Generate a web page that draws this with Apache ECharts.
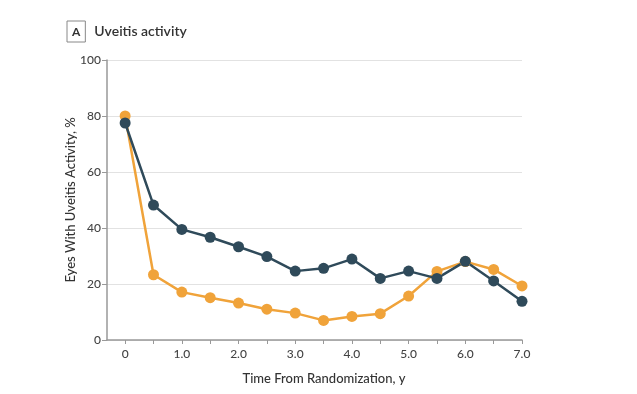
<!DOCTYPE html>
<html><head><meta charset="utf-8">
<script src="https://cdn.jsdelivr.net/npm/echarts@6/dist/echarts.min.js"></script>
<style>html,body{margin:0;padding:0;background:#fff}#c{width:637px;height:394px}</style>
</head><body><div id="c"></div>
<script>
const times = [0,0.5,1.0,1.5,2.0,2.5,3.0,3.5,4.0,4.5,5.0,5.5,6.0,6.5,7.0];
const blueValues = [77.5,48.2,39.5,36.7,33.3,29.8,24.6,25.6,28.9,22.0,24.6,22.0,28.1,21.1,13.8];
const orangeValues = [80.0,23.3,17.1,15.1,13.2,11.0,9.6,7.0,8.4,9.4,15.7,24.5,28.0,25.2,19.3];
const xLabelValues = [0,1,2,3,4,5,6,7];
const xTickValues = [0,0.5,1,1.5,2,2.5,3,3.5,4,4.5,5,5.5,6,6.5,7];
const yTicks = [0,20,40,60,80,100];

const font = 'Lato, "Open Sans", sans-serif';
const chart = echarts.init(document.getElementById('c'));
chart.setOption({
  animation: false,
  title: {
    text: '{box|A}{t|Uveitis activity}',
    left: 62, top: 16,
    textStyle: {
      rich: {
        box: {fontFamily: font, fontSize: 12, fontWeight: 'bold', color: '#333',
              borderColor: '#888', borderWidth: 1, padding: [5, 5, 4, 5]},
        t: {fontFamily: font, fontSize: 14, fontWeight: 600, color: '#333', padding: [0, 0, 0, 9]}
      }
    }
  },
  grid: {left: 107, top: 60, right: 115, bottom: 54},
  xAxis: {
    type: 'value', min: -0.32, max: 7,
    axisLine: {show: true, lineStyle: {color: '#999', width: 1.5}},
    axisTick: {show: true, customValues: xTickValues, length: 4, lineStyle: {color: '#999'}},
    axisLabel: {customValues: xLabelValues, margin: 8, fontFamily: font, fontSize: 12, fontWeight: 500, color: '#444',
                formatter: v => v === 0 ? '0' : v.toFixed(1)},
    splitLine: {show: false},
    name: 'Time From Randomization, y', nameLocation: 'middle', nameGap: 32, nameMoveOverlap: false,
    nameTextStyle: {fontFamily: font, fontSize: 13, fontWeight: 500, color: '#333', padding: [0, 0, 0, 19]}
  },
  yAxis: {
    type: 'value', min: 0, max: 100, interval: 20,
    axisLine: {show: true, onZero: false, lineStyle: {color: '#999', width: 1.5}},
    axisTick: {show: true, length: 5, lineStyle: {color: '#999'}},
    axisLabel: {margin: 6, fontFamily: font, fontSize: 12, fontWeight: 500, color: '#444'},
    splitLine: {show: true, lineStyle: {color: '#e2e2e2', width: 1}},
    name: 'Eyes With Uveitis Activity, %', nameLocation: 'middle', nameGap: 30, nameMoveOverlap: false,
    nameTextStyle: {fontFamily: font, fontSize: 13, fontWeight: 500, color: '#333'}
  },
  series: [
    {type: 'line', data: times.map((t,i)=>[t, orangeValues[i]]), symbol: 'circle', symbolSize: 11,
     itemStyle: {color: '#F0A33A'}, lineStyle: {color: '#F0A33A', width: 2.5}},
    {type: 'line', data: times.map((t,i)=>[t, blueValues[i]]), symbol: 'circle', symbolSize: 11,
     itemStyle: {color: '#2F4A5A'}, lineStyle: {color: '#2F4A5A', width: 2.5}}
  ]
});
</script></body></html>
